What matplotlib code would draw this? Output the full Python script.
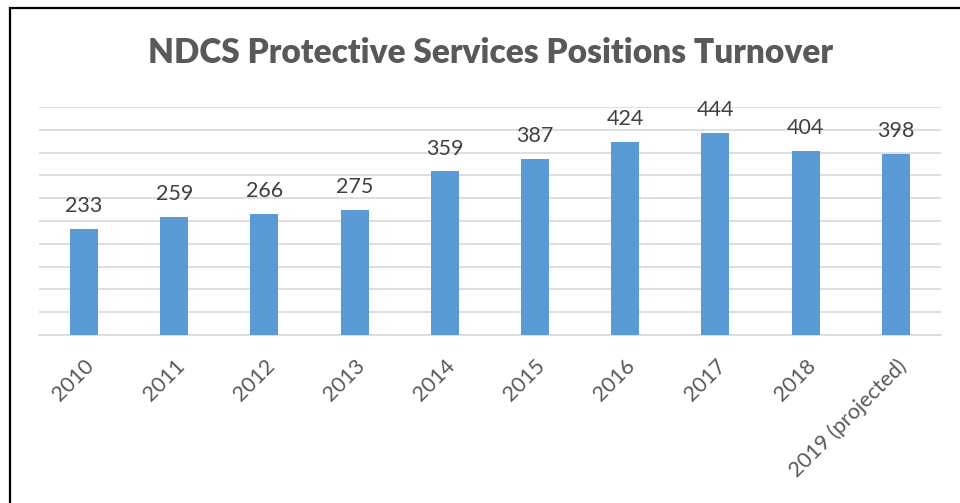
import matplotlib.pyplot as plt
from matplotlib.patches import Rectangle

plt.rcParams['font.family'] = ['Lato', 'DejaVu Sans']

years = ["2010", "2011", "2012", "2013", "2014", "2015", "2016", "2017", "2018", "2019 (projected)"]
turnover = [233, 259, 266, 275, 359, 387, 424, 444, 404, 398]

fig = plt.figure(figsize=(9.6, 5.03), dpi=100)
ax = fig.add_axes([0.0406, 0.334, 0.9394, 0.453])

x = range(len(years))
bars = ax.bar(x, turnover, width=0.31, color="#5B9BD5", zorder=3)

# etiquetas de valor encima de cada barra
for b, v in zip(bars, turnover):
    ax.annotate(str(v), (b.get_x() + b.get_width() / 2, v),
                xytext=(0, 9), textcoords="offset points",
                ha="center", va="bottom", fontsize=15.5, color="#404040")

ax.set_xlim(-0.5, len(years) - 0.5)
ax.set_ylim(0, 500)
ax.set_yticks(range(0, 501, 50))
ax.yaxis.grid(True, color="#D9D9D9", linewidth=1.2, zorder=0)
ax.tick_params(axis="y", left=False, labelleft=False)
ax.tick_params(axis="x", length=0, pad=15)
ax.set_xticks(list(x))
ax.set_xticklabels(years, rotation=45, ha="right", rotation_mode="anchor",
                   fontsize=15.5, color="#595959")
for s in ["top", "right", "left"]:
    ax.spines[s].set_visible(False)
ax.spines["bottom"].set_color("#D9D9D9")
ax.spines["bottom"].set_linewidth(1.2)

fig.text(0.511, 0.895, "NDCS Protective Services Positions Turnover",
         ha="center", va="center", fontsize=24, fontweight="heavy", color="#595959")

# marco de la imagen
fig.patches.append(Rectangle((10 / 960, -0.2), 1.2, 1 - 8 / 503 + 0.2,
                             transform=fig.transFigure, fill=False,
                             edgecolor="black", linewidth=1.6))

plt.savefig("out.png", dpi=100)
